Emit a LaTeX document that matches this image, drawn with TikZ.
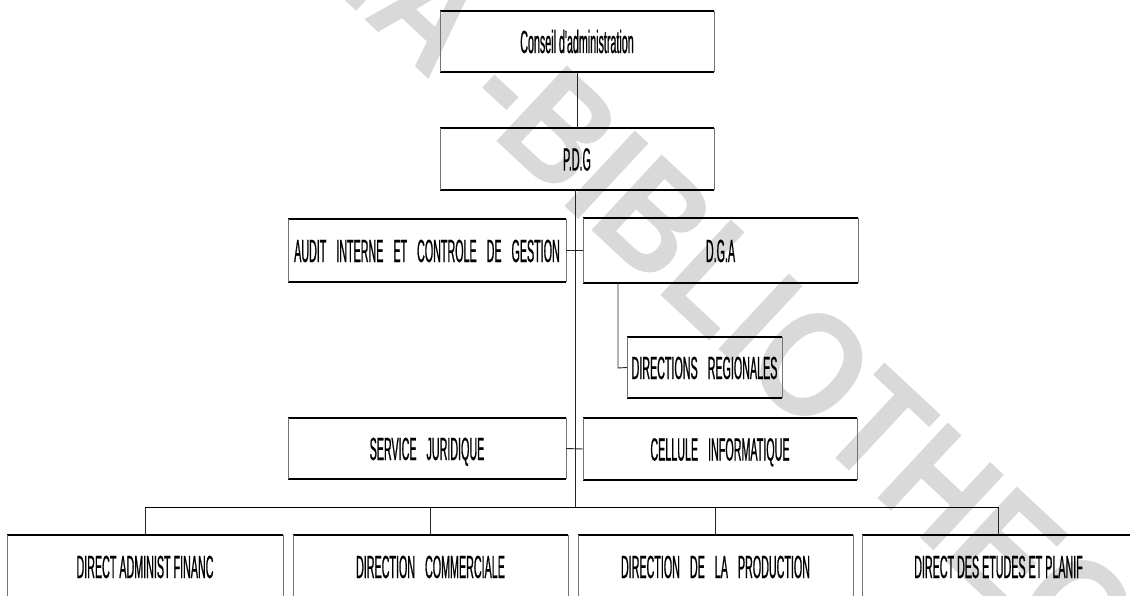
\documentclass[tikz,border=0pt]{standalone}
\usepackage{fontspec}
\setmainfont{Liberation Sans}
\newfontfamily\condfont[FakeStretch=0.335,FakeBold=0.6]{Liberation Sans}
\newfontfamily\wmfont[FakeStretch=0.87]{Liberation Sans Bold}
\newcommand\widewords{\spaceskip=10pt\relax}
\begin{document}
\begin{tikzpicture}[x=1pt,y=-1pt,
  box/.style={inner sep=0pt, outer sep=0pt, text height=23pt, text depth=0pt,
    font=\condfont\fontsize{32}{34}\selectfont},
  widesp/.style={font=\condfont\fontsize{32}{34}\selectfont\widewords},
  rim/.style={line width=1.7pt, black},
  side/.style={line width=0.8pt, black!55},
  link/.style={line width=0.9pt, black!85},
  busline/.style={line width=1.6pt, black},
  wmark/.style={inner sep=0pt, outer sep=0pt, text=black!15, rotate=-43,
    font=\wmfont\fontsize{150}{150}\selectfont}]
  \useasboundingbox (0,0) rectangle (1130,596);
  \fill[white] (0,0) rectangle (1130,596);
  \clip (0,0) rectangle (1130,596);

  % library watermark behind the chart
  \coordinate (wmstart) at (490,136);
  \node[wmark, anchor=base east] (wmleft) at (wmstart) {CODESRIA -\ };
  \node[wmark, anchor=base west] (wmright) at (wmstart) {BIBLIOTHEQUE};

  % boxes
  \node[box, minimum width=274, minimum height=61] (ca) at (577,41.5) {Conseil d'administration};
  \node[box, minimum width=274, minimum height=62] (pdg) at (577,159) {P.D.G};
  \node[box, widesp, minimum width=278, minimum height=63] (audit) at (427,250.5) {AUDIT INTERNE ET CONTROLE DE GESTION};
  \node[box, minimum width=275, minimum height=65] (dga) at (720.5,250.5) {D.G.A};
  \node[box, widesp, minimum width=155, minimum height=61] (dr) at (704.5,367.5) {DIRECTIONS REGIONALES};
  \node[box, widesp, minimum width=278, minimum height=61] (service) at (427,448.5) {SERVICE JURIDIQUE};
  \node[box, widesp, minimum width=274, minimum height=62] (cellule) at (720,449) {CELLULE INFORMATIQUE};
  \node[box, minimum width=276, minimum height=63] (daf) at (145,566.5) {DIRECT ADMINIST FINANC};
  \node[box, widesp, minimum width=275, minimum height=63] (dc) at (430.5,566.5) {DIRECTION COMMERCIALE};
  \node[box, widesp, minimum width=275, minimum height=63] (dp) at (715.5,566.5) {DIRECTION DE LA PRODUCTION};
  \node[box, minimum width=273, minimum height=63] (dep) at (998.5,566.5) {DIRECT DES ETUDES ET PLANIF};

  % box outlines: heavy top and bottom, light sides
  \foreach \n in {ca,pdg,audit,dga,dr,service,cellule,daf,dc,dp,dep} {
    \draw[rim] (\n.north west) -- (\n.north east) (\n.south west) -- (\n.south east);
    \draw[side] (\n.north west) -- (\n.south west) (\n.north east) -- (\n.south east);
  }

  % connectors
  \coordinate (bushub) at (575,507.5);
  \coordinate (drturn) at (618,368);
  \draw[link] (ca.south) -- (pdg.north);
  \draw[link] (pdg.south -| bushub) -- (bushub);
  \draw[link] (audit.east) -- (dga.west);
  \draw[link] (service.east) -- (cellule.west);
  \draw[link] (dga.south -| drturn) -- (drturn) -- (dr.west);
  \draw[busline] (daf.north |- bushub) -- (dep.north |- bushub);
  \foreach \n in {daf,dc,dp,dep}
    \draw[link] (\n.north |- bushub) -- (\n.north);
\end{tikzpicture}
\end{document}
